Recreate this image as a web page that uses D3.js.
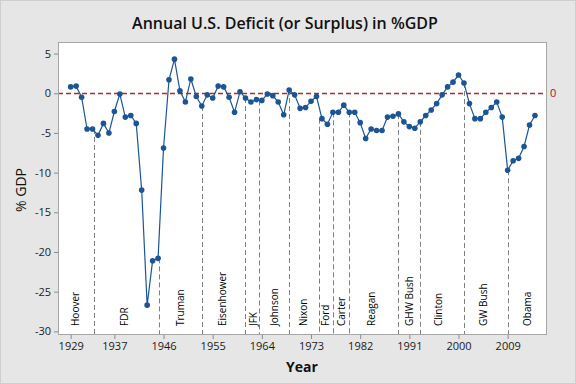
<!DOCTYPE html>
<html>
<head>
<meta charset="utf-8">
<script src="https://cdn.jsdelivr.net/npm/d3@7"></script>
<style>
  html, body { margin: 0; padding: 0; background: #e6e6e6; }
  svg { display: block; }
  text { font-family: "Open Sans", "DejaVu Sans", sans-serif; }
</style>
</head>
<body>
<svg id="chart" width="576" height="384"></svg>
<script>
var years = [1929, 1930, 1931, 1932, 1933, 1934, 1935, 1936, 1937, 1938,
  1939, 1940, 1941, 1942, 1943, 1944, 1945, 1946, 1947, 1948,
  1949, 1950, 1951, 1952, 1953, 1954, 1955, 1956, 1957, 1958,
  1959, 1960, 1961, 1962, 1963, 1964, 1965, 1966, 1967, 1968,
  1969, 1970, 1971, 1972, 1973, 1974, 1975, 1976, 1977, 1978,
  1979, 1980, 1981, 1982, 1983, 1984, 1985, 1986, 1987, 1988,
  1989, 1990, 1991, 1992, 1993, 1994, 1995, 1996, 1997, 1998,
  1999, 2000, 2001, 2002, 2003, 2004, 2005, 2006, 2007, 2008,
  2009, 2010, 2011, 2012, 2013, 2014];

var deficit = [0.8, 0.9, -0.5, -4.5, -4.5, -5.3, -3.8, -5.0, -2.3, -0.1,
  -3.0, -2.8, -3.8, -12.2, -26.7, -21.1, -20.8, -6.9, 1.7, 4.3,
  0.3, -1.1, 1.8, -0.4, -1.6, -0.2, -0.6, 0.9, 0.8, -0.5,
  -2.4, 0.2, -0.6, -1.1, -0.8, -0.9, -0.1, -0.3, -1.1, -2.7,
  0.4, -0.2, -1.9, -1.8, -1.0, -0.4, -3.2, -3.9, -2.4, -2.4,
  -1.5, -2.4, -2.4, -3.7, -5.7, -4.5, -4.7, -4.7, -3.0, -2.9,
  -2.6, -3.6, -4.2, -4.4, -3.6, -2.8, -2.1, -1.3, -0.2, 0.8,
  1.4, 2.3, 1.3, -1.3, -3.2, -3.2, -2.4, -1.8, -1.1, -3.0,
  -9.7, -8.5, -8.2, -6.7, -4.0, -2.8];

// start of each administration (dashed lines)
var termStarts = [1933.2, 1945.2, 1953.05, 1961.0, 1963.5, 1969.0, 1974.5,
  1977.05, 1980.0, 1989.0, 1993.0, 2000.95, 2009.0];

var presidents = ['Hoover', 'FDR', 'Truman', 'Eisenhower', 'JFK', 'Johnson', 'Nixon',
  'Ford', 'Carter', 'Reagan', 'GHW Bush', 'Clinton', 'GW Bush', 'Obama'];
var presidentAt = [1929.8, 1938.8, 1949.1, 1956.8, 1962.5, 1966.4, 1971.6,
  1975.6, 1978.6, 1984.0, 1991.0, 1996.4, 2004.5, 2012.6];

var xTicks = [1929, 1937, 1946, 1955, 1964, 1973, 1982, 1991, 2000, 2009];
var yTicks = [5, 0, -5, -10, -15, -20, -25, -30];

(function() {
  'use strict';

  var svg = d3.select('#chart');
  var W = 576, H = 384;
  var left = 58, right = 547, top = 42, bottom = 335;

  var x = d3.scaleLinear().domain([1926.68, 2016.2]).range([left, right]);
  var y = d3.scaleLinear().domain([-30.46, 6.46]).range([bottom, top]);

  var blue = '#1b5596';
  var red = '#b3262a';

  svg.append('rect')
    .attr('x', 0.5).attr('y', 0.5)
    .attr('width', W - 1).attr('height', H - 1)
    .attr('fill', '#e6e6e6')
    .attr('stroke', '#cfcfcf');

  svg.append('rect')
    .attr('x', left).attr('y', top)
    .attr('width', right - left).attr('height', bottom - top)
    .attr('fill', '#ffffff');

  // administration boundaries, dropped from the series down to the axis
  var valueNear = function(d) {
    return d3.min(years.map(function(yr, i) { return Math.abs(yr - d) < 0.6 ? deficit[i] : 99; }));
  };

  svg.append('g').selectAll('line')
    .data(termStarts)
    .enter()
    .append('line')
    .attr('x1', function(d) { return Math.round(x(d)) + 0.5; })
    .attr('x2', function(d) { return Math.round(x(d)) + 0.5; })
    .attr('y1', function(d) { return y(valueNear(d)); })
    .attr('y2', bottom)
    .attr('stroke', '#808080')
    .attr('stroke-width', 1)
    .attr('stroke-dasharray', '5,3');

  svg.append('g').selectAll('text')
    .data(presidents)
    .enter()
    .append('text')
    .attr('transform', function(d, i) { return 'translate(' + x(presidentAt[i]) + ',326) rotate(-90)'; })
    .attr('dy', '0.35em')
    .attr('font-size', 10)
    .attr('fill', '#000')
    .text(function(d) { return d; });

  // zero reference line
  svg.append('line')
    .attr('x1', left).attr('x2', right)
    .attr('y1', Math.round(y(0)) + 0.5).attr('y2', Math.round(y(0)) + 0.5)
    .attr('stroke', red)
    .attr('stroke-width', 1.4)
    .attr('stroke-dasharray', '5,3');

  svg.append('text')
    .attr('x', right + 3).attr('y', y(0))
    .attr('dy', '0.35em')
    .attr('font-size', 11)
    .attr('fill', '#a3141c')
    .text('0');

  // series
  var pts = years.map(function(yr, i) { return [yr, deficit[i]]; });
  var line = d3.line()
    .x(function(d) { return x(d[0]); })
    .y(function(d) { return y(d[1]); });

  svg.append('path')
    .datum(pts)
    .attr('d', line)
    .attr('fill', 'none')
    .attr('stroke', blue)
    .attr('stroke-width', 1.2);

  svg.append('g').selectAll('circle')
    .data(pts)
    .enter()
    .append('circle')
    .attr('cx', function(d) { return x(d[0]); })
    .attr('cy', function(d) { return y(d[1]); })
    .attr('r', 2.8)
    .attr('fill', blue);

  svg.append('rect')
    .attr('x', left + 0.5).attr('y', top + 0.5)
    .attr('width', right - left - 1).attr('height', bottom - top - 1)
    .attr('fill', 'none')
    .attr('stroke', '#a6a6a6');

  // axes (plain hyphen for negatives, as in the original)
  var fmt = function(d) { return String(d); };

  var xAxis = d3.axisBottom(x).tickValues(xTicks).tickFormat(fmt).tickSize(4).tickPadding(3);
  var gx = svg.append('g').attr('transform', 'translate(0,' + bottom + ')').call(xAxis);
  gx.select('.domain').remove();
  gx.selectAll('line').attr('stroke', '#8c8c8c');
  gx.selectAll('text').attr('font-size', 11).attr('fill', '#1a1a1a')
    .style('font-family', '"Open Sans", sans-serif');

  var yAxis = d3.axisLeft(y).tickValues(yTicks).tickFormat(fmt).tickSize(4).tickPadding(3);
  var gy = svg.append('g').attr('transform', 'translate(' + left + ',0)').call(yAxis);
  gy.select('.domain').remove();
  gy.selectAll('line').attr('stroke', '#8c8c8c');
  gy.selectAll('text').attr('font-size', 11).attr('fill', '#1a1a1a')
    .style('font-family', '"Open Sans", sans-serif');

  svg.append('text')
    .attr('x', 285).attr('y', 29)
    .attr('text-anchor', 'middle')
    .attr('font-size', 16)
    .attr('font-weight', 600)
    .attr('fill', '#111')
    .text('Annual U.S. Deficit (or Surplus) in %GDP');

  svg.append('text')
    .attr('x', 302).attr('y', 372)
    .attr('text-anchor', 'middle')
    .attr('font-size', 14)
    .attr('font-weight', 700)
    .attr('fill', '#111')
    .text('Year');

  svg.append('text')
    .attr('transform', 'translate(21,190) rotate(-90)')
    .attr('text-anchor', 'middle')
    .attr('dy', '0.35em')
    .attr('font-size', 14)
    .attr('fill', '#111')
    .text('% GDP');

}());
</script>
</body>
</html>
